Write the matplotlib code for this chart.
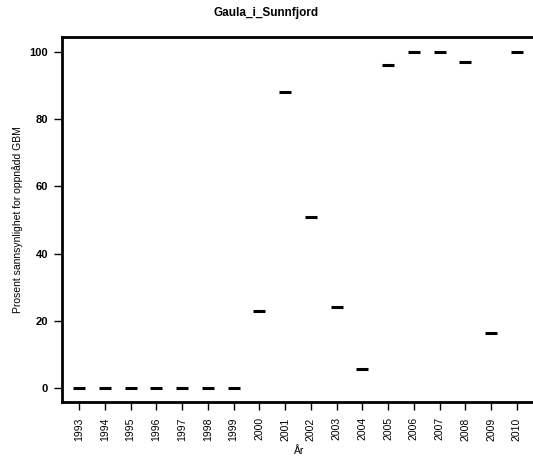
import matplotlib
matplotlib.use("Agg")
import matplotlib.pyplot as plt

plt.rcParams['font.family'] = ['Liberation Sans', 'DejaVu Sans']

years = [str(y) for y in range(1993, 2011)]
prosent = [0, 0, 0, 0, 0, 0, 0, 23, 88, 51, 24, 5.7, 96, 100, 100, 97, 16.3, 100]

fig = plt.figure(figsize=(5.33, 4.61), dpi=100)
ax = fig.add_axes([0.1163, 0.128, 0.89, 0.792])

x = list(range(1, len(years) + 1))
ax.plot(x, prosent, linestyle='none', marker='_', markersize=9, markeredgewidth=2.2, color='black')

ax.set_xlim(0.34, 1 + 0.89 * 533 / 25.76 - 0.66)
ax.set_ylim(-4.2, 104.5)
ax.set_xticks(x)
ax.set_xticklabels(years, rotation=90, fontsize=7.5)
ax.set_yticks([0, 20, 40, 60, 80, 100])
ax.set_yticklabels(['0', '20', '40', '60', '80', '100'], fontsize=8, fontweight='bold')
ax.tick_params(axis='x', length=6, width=1, pad=5)
ax.tick_params(axis='y', length=6, width=1, pad=4)

for side in ['left', 'top', 'bottom']:
    ax.spines[side].set_linewidth(2)
ax.spines['right'].set_visible(False)

ax.set_xlabel('År', fontsize=7.5, labelpad=4)
ax.set_ylabel('Prosent sannsynlighet for oppnådd GBM', fontsize=7.5, labelpad=5)
fig.suptitle('Gaula_i_Sunnfjord', fontsize=8.5, fontweight='bold', y=0.985)

fig.savefig('out.png', dpi=100)
